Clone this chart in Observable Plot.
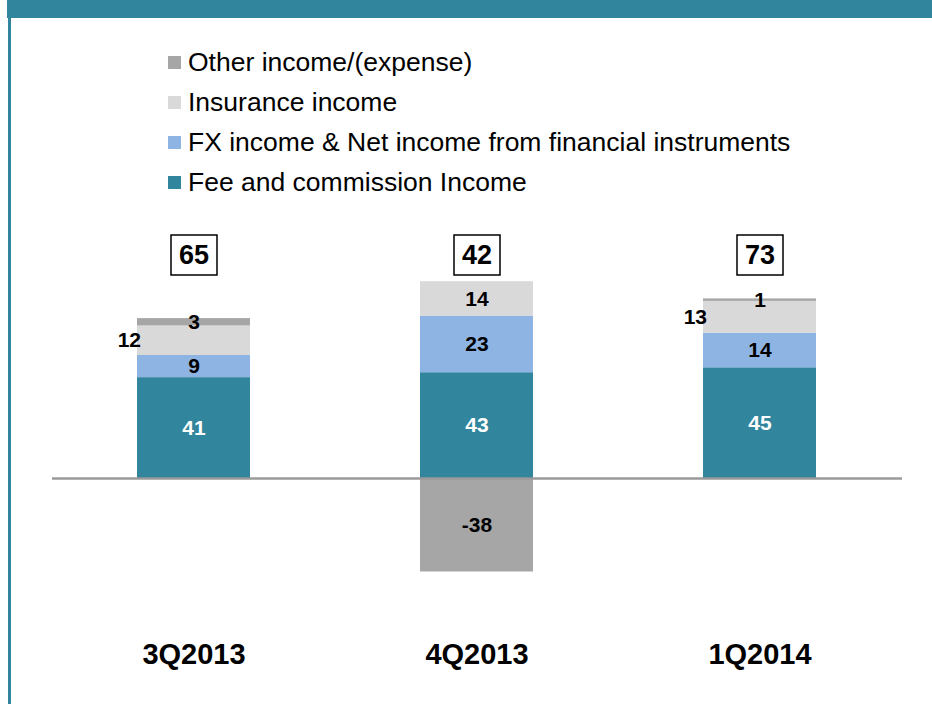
<!DOCTYPE html>
<html>
<head>
<meta charset="utf-8">
<script src="https://cdn.jsdelivr.net/npm/d3@7"></script>
<script src="https://cdn.jsdelivr.net/npm/@observablehq/plot@0.6"></script>
<style>
  html, body { margin: 0; padding: 0; background: #fff; }
  #wrap { position: relative; width: 932px; height: 704px; overflow: hidden; font-family: "Liberation Sans", Arial, sans-serif; }
  #header { position: absolute; left: 7px; top: 0; width: 925px; height: 18px; background: #31859C; }
  #border { position: absolute; left: 8px; top: 0; width: 3px; height: 704px; background: #31859C; }
  #legend { position: absolute; left: 168px; top: 42px; }
  .item { display: flex; align-items: center; height: 40px; font-size: 26.5px; color: #000; }
  .sw { width: 13px; height: 13px; margin-right: 7px; flex: none; }
  #chart { position: absolute; left: 0; top: 0; }
</style>
</head>
<body>
<div id="wrap">
  <div id="chart"></div>
  <div id="header"></div>
  <div id="border"></div>
  <div id="legend"></div>
</div>
<script>
const categories = ["3Q2013", "4Q2013", "1Q2014"];
const seriesNames = [
  "Fee and commission Income",
  "FX income & Net income from financial instruments",
  "Insurance income",
  "Other income/(expense)"
];
const seriesColors = ["#31859C", "#8DB4E2", "#D9D9D9", "#A6A6A6"];
const feeValues = [41, 43, 45];
const fxValues = [9, 23, 14];
const insuranceValues = [12, 14, 13];
const otherValues = [3, -38, 1];
const totals = [65, 42, 73];

// legend (top entry = top of stack)
const legend = document.getElementById("legend");
for (const i of [3, 2, 1, 0]) {
  const row = document.createElement("div");
  row.className = "item";
  const sw = document.createElement("span");
  sw.className = "sw";
  sw.style.background = seriesColors[i];
  const t = document.createElement("span");
  t.textContent = seriesNames[i];
  row.appendChild(sw);
  row.appendChild(t);
  legend.appendChild(row);
}

const seriesValues = [feeValues, fxValues, insuranceValues, otherValues];
const data = [];
categories.forEach((cat, c) => {
  seriesNames.forEach((s, k) => {
    data.push({cat, series: s, value: seriesValues[k][c], k});
  });
});
const totalData = categories.map((cat, c) => ({cat, total: totals[c]}));

// insurance label sits outside (left) when a small positive "other" sits above it
const isOutside = d => d.k === 2 && otherValues[categories.indexOf(d.cat)] > 0;

const boxSymbol = { draw(ctx) { ctx.rect(-23, -20, 46, 40); } };

const k = 2.46; // px per unit
const chart = Plot.plot({
  width: 932,
  height: 704,
  marginLeft: 52,
  marginRight: 30,
  marginTop: 478 - 110 * k,
  marginBottom: 704 - (478 + 60 * k),
  style: { fontFamily: "Liberation Sans, Arial, sans-serif", background: "transparent" },
  x: { domain: categories, paddingInner: 0.6, paddingOuter: 0.3, axis: null },
  y: { domain: [-60, 110], axis: null },
  color: { domain: seriesNames, range: seriesColors },
  marks: [
    Plot.barY(data, Plot.stackY({x: "cat", y: "value", z: "series", fill: "series", order: null})),
    Plot.ruleY([0], {stroke: "#9A9A9A", strokeWidth: 2.5}),
    Plot.text(data, Plot.stackY({
      x: "cat", y: "value", z: "series", order: null,
      text: d => isOutside(d) ? "" : String(d.value),
      fill: d => d.k === 0 ? "white" : "black",
      fontSize: 21, fontWeight: "bold"
    })),
    Plot.text(data, Plot.stackY({
      x: "cat", y: "value", z: "series", order: null,
      text: d => isOutside(d) ? String(d.value) : "",
      fill: "black", textAnchor: "end", dx: -53,
      fontSize: 21, fontWeight: "bold"
    })),
    Plot.dot(totalData, {x: "cat", frameAnchor: "top", dy: 47, symbol: boxSymbol, r: 10,
      fill: "white", stroke: "black", strokeWidth: 1.5}),
    Plot.text(totalData, {x: "cat", text: d => String(d.total), frameAnchor: "top", lineAnchor: "middle",
      dy: 47, fontSize: 27, fontWeight: "bold", fill: "black"}),
    Plot.axisX({tickSize: 0, tickPadding: 17, fontSize: 29, fontWeight: "bold", label: null, color: "black"})
  ]
});
document.getElementById("chart").appendChild(chart);
</script>
</body>
</html>
